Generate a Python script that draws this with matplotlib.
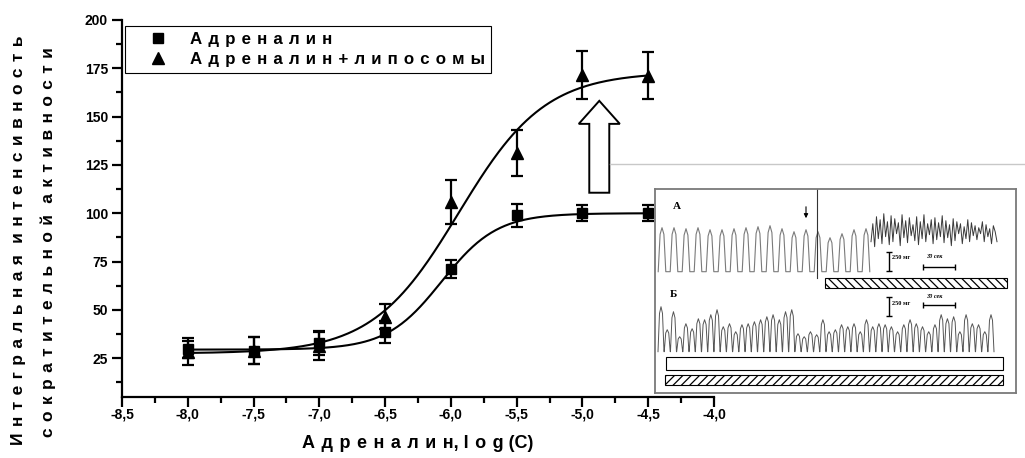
import numpy as np
import matplotlib
matplotlib.use('Agg')
from matplotlib import pyplot as plt
from matplotlib.lines import Line2D
from matplotlib.patches import Rectangle, FancyArrow
from matplotlib.ticker import MultipleLocator, FuncFormatter

plt.rcParams['font.family'] = ['Liberation Sans', 'DejaVu Sans']
plt.rcParams['hatch.linewidth'] = 0.9

# данные (log концентрации адреналина)
log_c = [-8.0, -7.5, -7.0, -6.5, -6.0, -5.5, -5.0, -4.5]
adr = [29.6, 29.0, 32.8, 38.8, 71.3, 98.9, 100.2, 100.0]
adr_err = [4.3, 7.0, 6.0, 5.7, 4.7, 6.0, 4.0, 4.0]
lip = [28.5, 29.0, 31.5, 46.5, 105.8, 131.1, 171.5, 171.0]
lip_err = [7.0, 7.0, 7.5, 6.5, 11.6, 11.8, 12.3, 12.2]

# параметры сигмоидной аппроксимации (по картинке)
adr_fit = (29.5, 100.0, -6.07, 0.21)   # низ, верх, x0, dx
lip_fit = (27.5, 173.0, -5.94, 0.328)

# вставка: высоты пиков записи (в пикселях)
a_peaks = [44, 44, 43, 44, 42, 42, 43, 44, 45, 46, 43, 40, 42, 40, 34, 38, 42, 43]
a_fast = [30, 48, 25, 55, 33, 52, 28, 58, 35, 50, 27, 56, 30, 53, 38, 49, 26, 57,
          34, 51, 29, 54, 36, 47, 31, 55, 27, 50, 33, 57, 30, 48, 37, 52, 28, 54,
          32, 49, 35, 56, 29, 51, 34, 47, 26, 53, 31, 50, 38, 48, 28, 45, 33, 52,
          30, 49, 36, 46, 32, 44, 38, 50, 30, 47, 35, 43, 28, 46, 40, 30]
b_peaks = [45, 22, 40, 15, 28, 23, 33, 32, 37, 42, 25, 28, 20, 27, 28, 30, 32, 35,
           37, 32, 40, 42, 18, 15, 20, 17, 32, 20, 22, 27, 25, 28, 20, 32, 25, 28,
           27, 25, 20, 27, 32, 28, 25, 20, 27, 37, 33, 35, 20, 37, 28, 27, 20, 37]

W, H = 1025, 458
def fx(x):
    return x / W
def fy(y):
    return 1 - y / H

SEP = ' \u200a'
def spaced(s, sep=SEP):
    return sep.join(s)

def sigmoid(x, p):
    a1, a2, x0, dx = p
    return a2 + (a1 - a2) / (1 + np.exp((x - x0) / dx))

fig = plt.figure(figsize=(W / 100, H / 100), dpi=100)
ax = fig.add_axes([fx(122), fy(397), (714 - 122) / W, (397 - 19.8) / H])

xs = np.linspace(log_c[0], log_c[-1], 300)
ax.plot(xs, sigmoid(xs, adr_fit), color='k', lw=1.5, zorder=2)
ax.plot(xs, sigmoid(xs, lip_fit), color='k', lw=1.5, zorder=2)
ax.errorbar(log_c, adr, yerr=adr_err, fmt='s', color='k', ms=7, capsize=4,
            elinewidth=1.6, capthick=1.6, zorder=3)
ax.errorbar(log_c, lip, yerr=lip_err, fmt='^', color='k', ms=8, capsize=4,
            elinewidth=1.6, capthick=1.6, zorder=3)

ax.set_xlim(-8.5, -4.0)
ax.set_ylim(5, 200)
for s in ['top', 'right']:
    ax.spines[s].set_visible(False)
for s in ['left', 'bottom']:
    ax.spines[s].set_linewidth(1.6)
ax.xaxis.set_major_locator(MultipleLocator(0.5))
ax.xaxis.set_minor_locator(MultipleLocator(0.25))
ax.yaxis.set_major_locator(MultipleLocator(25))
ax.yaxis.set_minor_locator(MultipleLocator(12.5))
ax.xaxis.set_major_formatter(FuncFormatter(lambda v, p: f'{v:.1f}'.replace('.', ',')))
ax.yaxis.set_major_formatter(FuncFormatter(lambda v, p: f'{v:.0f}' if v >= 25 else ''))
ax.tick_params(which='major', length=7, width=1.6, labelsize=10)
ax.tick_params(axis='x', which='major', pad=0.5)
ax.tick_params(axis='y', which='major', pad=3)
ax.tick_params(which='minor', length=4, width=1.6)
for lab in ax.get_xticklabels() + ax.get_yticklabels():
    lab.set_fontweight('bold')

ax.set_xlabel(spaced('Адреналин') + ', ' + spaced('log') + ' (C)',
              fontsize=13, fontweight='bold', labelpad=10)
fig.text(fx(19), fy(240), spaced('Интегральная') + SEP + ' ' + spaced('интенсивность'),
         rotation=90, ha='center', va='center', fontsize=12.5, fontweight='bold')
fig.text(fx(48), fy(242), spaced('сократительной') + SEP + ' ' + spaced('активности'),
         rotation=90, ha='center', va='center', fontsize=12.5, fontweight='bold')

handles = [Line2D([], [], marker='s', ls='none', color='k', ms=7),
           Line2D([], [], marker='^', ls='none', color='k', ms=8)]
leg = ax.legend(handles, [spaced('Адреналин'), spaced('Адреналин+липосомы')],
                loc='upper left', bbox_to_anchor=(fx(125), fy(25.7)),
                bbox_transform=fig.transFigure, borderaxespad=0, fancybox=False,
                edgecolor='k', framealpha=1, handlelength=3.2, handletextpad=0.3,
                borderpad=0.35, labelspacing=0.3,
                prop={'weight': 'bold', 'size': 12.2})
leg.get_frame().set_linewidth(0.8)

# белая стрелка вверх
ax.add_patch(FancyArrow(-4.872, 110.6, 0, 47.5, width=0.152, head_width=0.312,
                        head_length=11.9, length_includes_head=True,
                        fc='white', ec='k', lw=1.4, zorder=4))

# серая линия
fig.add_artist(Line2D([fx(610), 1], [fy(164), fy(164)], color='#c8c8c8', lw=1))

# вставка с записями сокращений
ai = fig.add_axes([fx(655), fy(393), (1016 - 655) / W, (393 - 189) / H], zorder=5)
ai.set_xlim(655, 1016)
ai.set_ylim(393, 189)
ai.set_xticks([])
ai.set_yticks([])
for s in ai.spines.values():
    s.set_color('#7a7a7a')
    s.set_linewidth(1.3)

def peak_trace(xc, base, heights, hw):
    x, y = [], []
    for c, h in zip(xc, heights):
        x += [c - hw, c - 0.5 * hw, c, c + 0.5 * hw, c + hw]
        y += [base, base - 0.85 * h, base - h, base - 0.85 * h, base]
    return x, y

base_a = 271.7
xa, ya = peak_trace(np.linspace(662, 866, len(a_peaks)), base_a, a_peaks, 3.8)
ai.plot(xa, ya, color='#7a7a7a', lw=0.8)
xf = np.linspace(871, 997, len(a_fast))
ai.plot(xf, base_a - np.array(a_fast), color='#3a3a3a', lw=0.7)

base_b = 351.7
xb, yb = peak_trace(np.linspace(661, 991, len(b_peaks)), base_b, b_peaks, 3.0)
ai.plot(xb, yb, color='#555555', lw=0.7)

ai.plot([816.7, 816.7], [189, 278], color='#333333', lw=0.8)
ai.annotate('', xy=(806, 221), xytext=(806, 204),
            arrowprops=dict(arrowstyle='-|>', color='k', lw=0.8, mutation_scale=6))

serif = {'family': 'Liberation Serif', 'weight': 'bold'}
ai.text(677, 207, 'А', fontsize=8, ha='center', va='center', fontdict=serif)
ai.text(673, 295, 'Б', fontsize=8, ha='center', va='center', fontdict=serif)
for yc, ty in [(262, 258), (306.5, 304)]:
    ai.errorbar(889, yc, yerr=9.5, fmt='none', ecolor='k', capsize=2.5, elinewidth=1, capthick=1)
    ai.text(892, ty, '250 мг', fontsize=4.5, va='center', fontdict=serif)
for yb_, ty in [(267, 257), (305, 297)]:
    ai.errorbar(939, yb_, xerr=16, fmt='none', ecolor='k', capsize=2, elinewidth=1, capthick=1)
    ai.text(926, ty, '30 сек', fontsize=4.5, va='center', style='italic', fontdict=serif)

ai.add_patch(Rectangle((825, 278), 182, 10, fc='white', ec='k', lw=0.8, hatch='\\\\\\\\'))
ai.add_patch(Rectangle((665.7, 357), 337, 13.5, fc='white', ec='k', lw=0.8))
ai.add_patch(Rectangle((665, 375.5), 338, 10, fc='white', ec='k', lw=0.8, hatch='////'))

fig.savefig('out.png', dpi=100)
